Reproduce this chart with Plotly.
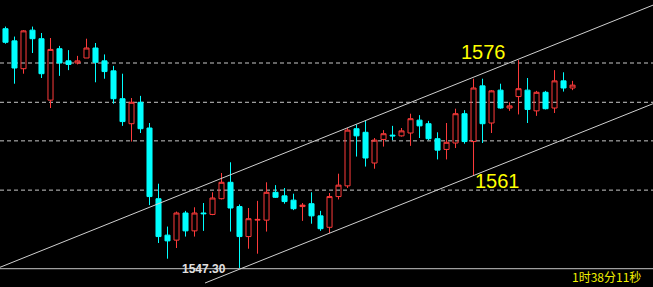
import plotly.graph_objects as go

# ---- data (prices) ----
opens = [1580.8, 1579.1, 1575.2, 1580.6, 1579.4, 1570.8, 1578.0, 1576.3, 1576.0, 1576.7,
         1578.1, 1576.3, 1574.9, 1571.0, 1567.5, 1570.5, 1566.9, 1557.0, 1551.9, 1551.2,
         1555.0, 1552.5, 1555.0, 1554.8, 1557.0, 1559.3, 1555.9, 1551.7, 1554.0, 1554.0,
         1557.9, 1557.4, 1556.8, 1555.9, 1556.3, 1554.6, 1553.0, 1557.3, 1558.8, 1566.8,
         1566.3, 1562.0, 1565.3, 1565.9, 1565.8, 1566.2, 1568.0, 1567.5, 1565.4, 1563.9,
         1564.8, 1568.9, 1565.0, 1572.8, 1567.6, 1572.2, 1569.7, 1571.3, 1572.2, 1569.3,
         1571.9, 1569.7, 1573.5, 1572.5]
highs = [1581.1, 1579.7, 1580.6, 1581.1, 1580.2, 1579.5, 1578.4, 1577.8, 1577.0, 1579.4,
         1578.8, 1577.2, 1575.6, 1574.5, 1571.1, 1571.4, 1567.6, 1559.1, 1553.1, 1555.2,
         1555.3, 1555.8, 1556.4, 1557.9, 1560.6, 1562.1, 1556.2, 1555.7, 1556.7, 1559.3,
         1558.9, 1558.5, 1557.7, 1556.4, 1557.9, 1555.3, 1557.8, 1560.5, 1566.9, 1567.4,
         1568.0, 1565.5, 1566.6, 1567.2, 1566.9, 1568.9, 1568.7, 1567.9, 1566.3, 1567.6,
         1569.6, 1569.4, 1573.8, 1573.8, 1572.2, 1573.1, 1570.5, 1576.4, 1573.9, 1572.1,
         1572.1, 1575.0, 1574.7, 1573.5]
lows = [1578.7, 1573.1, 1574.5, 1577.4, 1573.9, 1569.7, 1574.2, 1575.0, 1575.8, 1576.7,
        1573.3, 1573.8, 1570.3, 1567.2, 1565.0, 1566.2, 1556.1, 1550.8, 1548.6, 1550.1,
        1551.7, 1551.7, 1552.5, 1554.7, 1556.9, 1552.4, 1547.3, 1550.0, 1549.3, 1552.4,
        1557.1, 1556.3, 1555.4, 1553.9, 1553.5, 1552.5, 1552.2, 1556.9, 1558.5, 1562.9,
        1561.5, 1561.2, 1564.3, 1565.2, 1565.7, 1564.4, 1565.5, 1565.2, 1562.5, 1562.5,
        1564.1, 1564.7, 1560.3, 1564.8, 1566.2, 1569.6, 1569.3, 1568.8, 1567.6, 1568.6,
        1569.5, 1569.0, 1572.0, 1572.2]
closes = [1578.9, 1575.3, 1580.5, 1579.4, 1574.5, 1577.9, 1576.0, 1575.8, 1576.3, 1578.1,
          1576.1, 1574.8, 1571.0, 1567.8, 1570.5, 1566.8, 1557.3, 1551.7, 1551.1, 1555.0,
          1552.5, 1555.0, 1554.9, 1557.1, 1559.3, 1555.7, 1551.7, 1554.2, 1554.1, 1557.9,
          1557.2, 1556.6, 1555.6, 1556.1, 1554.6, 1552.8, 1557.3, 1558.9, 1566.6, 1565.8,
          1562.7, 1565.2, 1566.1, 1565.8, 1566.5, 1568.2, 1567.2, 1565.4, 1563.8, 1564.9,
          1568.9, 1565.0, 1572.5, 1567.5, 1572.1, 1569.7, 1570.0, 1572.4, 1569.5, 1571.9,
          1569.6, 1573.5, 1572.5, 1572.9]
bars = list(range(len(opens)))

h_levels = [1576.0, 1570.5, 1565.1, 1558.2]     # dashed horizontal lines
base_level = 1547.2                             # solid bottom line
upper_channel = {"x": [-0.61, 71.94], "y": [1547.4, 1584.1]}
lower_channel = {"x": [22.17, 71.94], "y": [1545.2, 1570.3]}
labels = [("1576", 53.1, 1577.5), ("1561", 54.7, 1559.5)]
low_label = ("1547.30", 22.1, 1547.2)
timer_text = "1时38分11秒"

x_range = [-0.611, 71.94]
y_range = [1544.64, 1584.82]

fig = go.Figure()

fig.add_trace(go.Candlestick(
    x=bars, open=opens, high=highs, low=lows, close=closes,
    increasing=dict(line=dict(color="#ff3b3b", width=1), fillcolor="rgba(0,0,0,0)"),
    decreasing=dict(line=dict(color="#00ffff", width=1), fillcolor="#00ffff"),
    whiskerwidth=0, hoverinfo="skip", showlegend=False,
))

for lv in h_levels:
    fig.add_shape(type="line", xref="x", yref="y", x0=x_range[0], x1=x_range[1], y0=lv, y1=lv,
                  line=dict(color="#c8c8c8", width=1, dash="4px,3px"), layer="below")

fig.add_shape(type="line", xref="x", yref="y", x0=x_range[0], x1=x_range[1],
              y0=base_level, y1=base_level, line=dict(color="#c8c8c8", width=1), layer="below")

for ch in (upper_channel, lower_channel):
    fig.add_trace(go.Scatter(x=ch["x"], y=ch["y"], mode="lines",
                             line=dict(color="#d0d0d0", width=1),
                             hoverinfo="skip", showlegend=False))

for txt, xx, yy in labels:
    fig.add_annotation(x=xx, y=yy, text=txt, showarrow=False, xref="x", yref="y",
                       font=dict(family="Liberation Sans, Arial", size=20, color="#ffff00"))

fig.add_annotation(x=low_label[1], y=low_label[2], text="<b>" + low_label[0] + "</b>",
                   showarrow=False, xref="x", yref="y",
                   font=dict(family="Liberation Sans, Arial", size=12, color="#e0e0e0"))

fig.add_annotation(x=643 / 653, y=0.038, xref="paper", yref="paper", xanchor="right",
                   yanchor="middle", text=timer_text, showarrow=False,
                   font=dict(family="Noto Sans CJK SC", size=12, color="#f0f000"))

fig.update_layout(
    width=653, height=287, margin=dict(l=0, r=0, t=0, b=0),
    paper_bgcolor="#000000", plot_bgcolor="#000000",
    boxgap=0.2,
    xaxis=dict(range=x_range, visible=False, rangeslider=dict(visible=False), fixedrange=True),
    yaxis=dict(range=y_range, visible=False, fixedrange=True),
)

fig.write_html("out.html", config={"displayModeBar": False})
